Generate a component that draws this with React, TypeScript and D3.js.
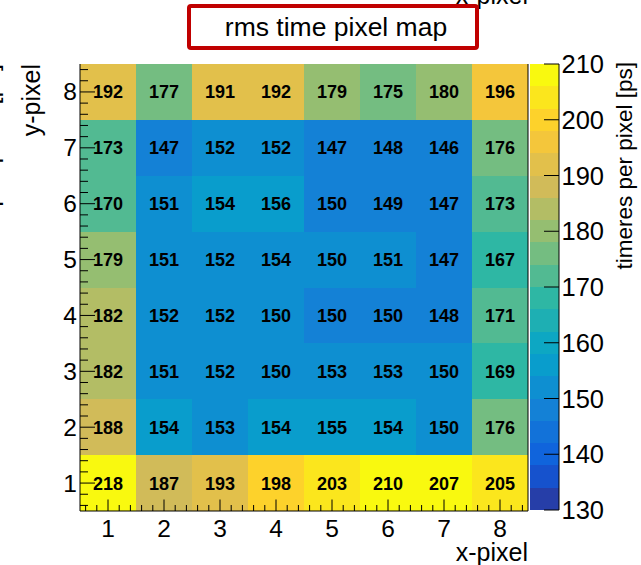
import React from "react";
import * as d3 from "d3";

// ---- data ----
const xPixels = [1, 2, 3, 4, 5, 6, 7, 8];
const yPixels = [1, 2, 3, 4, 5, 6, 7, 8];
// rms time resolution per pixel [ps], one array per y-pixel row (x = 1..8)
const rowY1 = [218, 187, 193, 198.2, 203, 210, 207, 205];
const rowY2 = [188, 154.3, 153, 154.2, 155, 154.1, 150.2, 176];
const rowY3 = [182, 151, 152, 150.3, 153, 153, 150.2, 169];
const rowY4 = [182, 152, 152, 150.2, 149.7, 149.6, 148, 171];
const rowY5 = [179, 151, 152, 153.8, 150.2, 151, 147, 167];
const rowY6 = [170, 151, 154.2, 156, 149.8, 149, 147, 173];
const rowY7 = [173, 147, 152, 152, 147, 148, 146, 176];
const rowY8 = [192, 177, 191, 192, 179, 175, 180, 196];
const rows = [rowY1, rowY2, rowY3, rowY4, rowY5, rowY6, rowY7, rowY8];
const zTicks = [130, 140, 150, 160, 170, 180, 190, 200, 210];
const zMin = 130;
const zMax = 210;
const nContours = 20;
const titleText = "rms time pixel map";
const xTitle = "x-pixel";
const yTitle = "y-pixel";
const zTitle = "timeres per pixel [ps]";

// ---- ROOT kBird palette ----
const birdStops = [0.0, 0.125, 0.25, 0.375, 0.5, 0.625, 0.75, 0.875, 1.0];
const birdR = [0.2082, 0.0592, 0.078, 0.0232, 0.1802, 0.5301, 0.8186, 0.9956, 0.9764];
const birdG = [0.1664, 0.3599, 0.5041, 0.6419, 0.7178, 0.7492, 0.7328, 0.7862, 0.9832];
const birdB = [0.5293, 0.8684, 0.8385, 0.7914, 0.6425, 0.4662, 0.3499, 0.1968, 0.0539];

function makePalette(n: number): string[] {
  const out: string[] = [];
  for (let g = 1; g < birdStops.length; g++) {
    const nc = Math.floor(n * birdStops[g]) - Math.floor(n * birdStops[g - 1]);
    for (let c = 0; c < nc; c++) {
      const r = birdR[g - 1] + (c * (birdR[g] - birdR[g - 1])) / nc;
      const gg = birdG[g - 1] + (c * (birdG[g] - birdG[g - 1])) / nc;
      const b = birdB[g - 1] + (c * (birdB[g] - birdB[g - 1])) / nc;
      out.push(d3.rgb(r * 255, gg * 255, b * 255).formatHex());
    }
  }
  return out;
}
const palette = makePalette(255);
function bandColor(k: number) {
  const idx = Math.floor(((k + 0.99) * palette.length) / nContours);
  return palette[Math.min(palette.length - 1, idx)];
}
const bandScale = d3
  .scaleQuantize<number>()
  .domain([zMin, zMax])
  .range(d3.range(nContours));
function colorFor(v: number) {
  const k = v >= zMax ? nContours - 1 : bandScale(v);
  return bandColor(k);
}

const W = 641;
const H = 565;
const font = "'Liberation Sans', Arial, Helvetica, sans-serif";

export default function App() {
  const fx0 = 80, fx1 = 528, fy0 = 64, fy1 = 511;
  const x = d3.scaleLinear().domain([0.5, 8.5]).range([fx0, fx1]);
  const y = d3.scaleLinear().domain([0.5, 8.5]).range([fy1, fy0]);
  const cbx0 = 530, cbx1 = 559;
  const z = d3.scaleLinear().domain([zMin, zMax]).range([510, 64]);
  const fmt = d3.format(".0f");
  const minorTicks = d3.range(0.6, 8.45, 0.2).filter((t) => Math.abs(t - Math.round(t)) > 0.05);
  const bands = d3.range(nContours);
  const bandW = (zMax - zMin) / nContours;

  return (
    <svg width={W} height={H} style={{ position: "absolute", left: 0, top: 0, background: "#fff" }} fontFamily={font}>
      <rect x={0} y={0} width={W} height={H} fill="#fff" />
      {/* neighbour pad remnants (titles of adjacent pads, cut off by the edges) */}
      <text x={fx1} y={4} textAnchor="end" fontSize={25} fill="#000">{xTitle}</text>
      <text transform={`translate(-2.5,64) rotate(-90)`} textAnchor="end" fontSize={25.2} fill="#000">
        {zTitle}
      </text>

      {/* cells */}
      {rows.map((row, j) =>
        row.map((v, i) => (
          <rect
            key={`c${i}-${j}`}
            x={x(xPixels[i] - 0.5)}
            y={y(yPixels[j] + 0.5)}
            width={x(xPixels[i] + 0.5) - x(xPixels[i] - 0.5)}
            height={y(yPixels[j] - 0.5) - y(yPixels[j] + 0.5)}
            fill={colorFor(v)}
            shapeRendering="crispEdges"
          />
        ))
      )}
      {rows.map((row, j) =>
        row.map((v, i) => (
          <text
            key={`t${i}-${j}`}
            x={x(xPixels[i])}
            y={y(yPixels[j]) + 6.5}
            textAnchor="middle"
            fontSize={18}
            fontWeight="bold"
            fill="#000"
          >
            {fmt(v)}
          </text>
        ))
      )}

      {/* frame axes */}
      <line x1={fx0} y1={fy1} x2={fx1} y2={fy1} stroke="#000" strokeWidth={1} />
      <line x1={fx0} y1={fy0} x2={fx0} y2={fy1} stroke="#000" strokeWidth={1} />
      <line x1={fx1} y1={fy0} x2={fx1} y2={fy1} stroke="#000" strokeWidth={1} />
      {/* x ticks */}
      {xPixels.map((t) => (
        <line key={`xt${t}`} x1={x(t)} x2={x(t)} y1={fy1} y2={fy1 - 11.5} stroke="#000" />
      ))}
      {minorTicks.map((t, i) => (
        <line key={`xm${i}`} x1={x(t)} x2={x(t)} y1={fy1} y2={fy1 - 6} stroke="#000" />
      ))}
      {xPixels.map((t) => (
        <text key={`xl${t}`} x={x(t)} y={537} textAnchor="middle" fontSize={24.5} fill="#000">
          {t}
        </text>
      ))}
      {/* y ticks */}
      {yPixels.map((t) => (
        <line key={`yt${t}`} x1={fx0} x2={fx0 + 15} y1={y(t)} y2={y(t)} stroke="#000" />
      ))}
      {minorTicks.map((t, i) => (
        <line key={`ym${i}`} x1={fx0} x2={fx0 + 8} y1={y(t)} y2={y(t)} stroke="#000" />
      ))}
      {yPixels.map((t) => (
        <text key={`yl${t}`} x={77} y={y(t) + 8.5} textAnchor="end" fontSize={24.5} fill="#000">
          {t}
        </text>
      ))}

      {/* axis titles */}
      <text x={fx1} y={561} textAnchor="end" fontSize={25} fill="#000">{xTitle}</text>
      <text transform={`translate(40,${fy0}) rotate(-90)`} textAnchor="end" fontSize={25} fill="#000">
        {yTitle}
      </text>

      {/* colour bar */}
      {bands.map((k) => (
        <rect
          key={`b${k}`}
          x={cbx0}
          y={z(zMin + (k + 1) * bandW)}
          width={cbx1 - cbx0}
          height={z(zMin + k * bandW) - z(zMin + (k + 1) * bandW)}
          fill={bandColor(k)}
          shapeRendering="crispEdges"
        />
      ))}
      <line x1={cbx1} x2={cbx1} y1={z(zMax)} y2={z(zMin)} stroke="#000" />
      {zTicks.map((t) => (
        <g key={`z${t}`}>
          <line x1={cbx1 - 15} x2={cbx1} y1={z(t)} y2={z(t)} stroke="#000" />
          <text x={561.5} y={z(t) + 9} fontSize={25.5} fill="#000">
            {t}
          </text>
        </g>
      ))}
      <text transform={`translate(632,62) rotate(-90)`} textAnchor="end" fontSize={22.5} fill="#000">
        {zTitle}
      </text>

      {/* title box */}
      <rect x={189} y={6} width={288} height={42} rx={2} fill="#fff" stroke="#c00000" strokeWidth={4} />
      <text x={336} y={36} textAnchor="middle" fontSize={26.5} fill="#000">
        {titleText}
      </text>
    </svg>
  );
}
